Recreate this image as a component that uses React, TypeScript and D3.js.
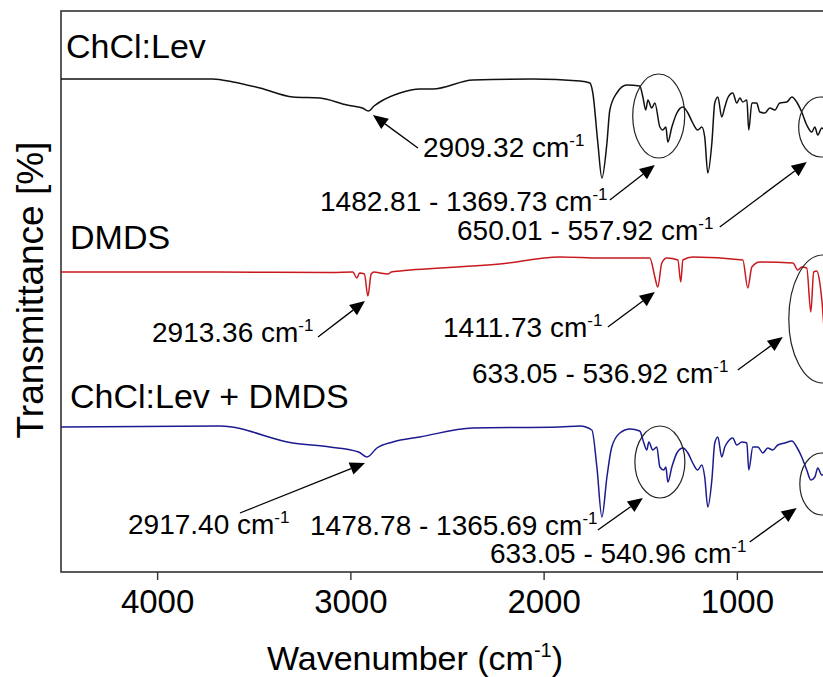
import React from "react";
import * as d3 from "d3";

// ---------- data (wavenumber cm-1, transmittance in arbitrary stacked units) ----------
const chclLev: [number, number][] = [
  [4500, 98.6], [3714, 98.6], [3610, 98.0], [3471, 96.8], [3300, 95.0], [3160, 94.8],
  [3020, 93.4], [2940, 92.8], [2909, 92.2], [2880, 93.2], [2850, 94.0], [2746, 95.8],
  [2643, 96.6], [2576, 96.6], [2369, 98.4], [2058, 98.6], [1815, 98.2], [1763, 97.8],
  [1748, 95.8], [1722, 85.8], [1701, 78.8], [1675, 85.8], [1660, 92.4], [1624, 95.8],
  [1572, 97.4], [1505, 97.2], [1489, 95.0], [1474, 92.4], [1463, 94.4], [1443, 92.8],
  [1427, 93.8], [1401, 89.0], [1386, 88.4], [1370, 89.0], [1360, 86.0], [1339, 89.0],
  [1313, 91.8], [1282, 93.0], [1256, 91.8], [1231, 89.8], [1205, 88.4], [1184, 89.0],
  [1169, 87.0], [1153, 79.8], [1132, 85.8], [1117, 93.8], [1101, 95.0], [1081, 91.0],
  [1065, 93.0], [1050, 94.8], [1024, 95.8], [1003, 93.8], [987, 94.8], [972, 94.0],
  [951, 94.4], [941, 88.4], [925, 93.8], [900, 93.8], [884, 92.0], [858, 91.8],
  [832, 92.8], [806, 92.4], [781, 93.8], [744, 94.0], [718, 95.0], [693, 94.0],
  [667, 92.0], [641, 89.4], [615, 88.0], [599, 89.0], [584, 87.4], [563, 88.8],
  [540, 88.0], [500, 89.0],
];

const dmds: [number, number][] = [
  [4500, 60.0], [3700, 60.0], [3100, 59.9], [2990, 60.0], [2969, 58.8], [2955, 59.8],
  [2930, 59.6], [2912, 55.2], [2895, 59.6], [2880, 60.0], [2850, 59.8], [2808, 59.6],
  [2790, 60.0], [2746, 60.2], [2229, 61.6], [1919, 63.0], [1700, 62.8], [1453, 62.8],
  [1427, 59.0], [1412, 57.0], [1391, 61.8], [1365, 62.8], [1308, 62.4], [1293, 58.0],
  [1282, 62.4], [1231, 63.0], [972, 62.4], [946, 56.8], [925, 61.0], [884, 62.0],
  [713, 61.8], [687, 60.4], [667, 61.0], [641, 60.8], [620, 52.0], [605, 60.0],
  [589, 60.2], [574, 58.0], [563, 54.4], [545, 47.0], [500, 58.0],
];

const chclLevDmds: [number, number][] = [
  [4500, 29.0], [3677, 29.2], [3300, 25.8], [3108, 25.0], [2960, 24.0], [2917, 23.0],
  [2865, 24.8], [2783, 26.0], [2643, 27.0], [2369, 28.8], [1919, 29.0], [1815, 29.2],
  [1753, 28.4], [1727, 21.0], [1701, 11.0], [1675, 19.0], [1650, 25.0], [1608, 27.8],
  [1556, 28.6], [1505, 28.2], [1484, 25.8], [1469, 24.4], [1458, 26.0], [1438, 24.4],
  [1417, 25.0], [1401, 21.0], [1381, 20.4], [1370, 21.0], [1360, 18.0], [1339, 21.0],
  [1313, 23.8], [1282, 24.8], [1256, 23.8], [1231, 21.8], [1205, 20.4], [1184, 21.4],
  [1169, 19.0], [1153, 13.0], [1132, 18.4], [1117, 25.8], [1101, 27.0], [1081, 23.0],
  [1065, 25.0], [1050, 26.0], [1024, 26.8], [1003, 25.4], [977, 26.0], [951, 25.8],
  [941, 20.4], [920, 25.0], [894, 25.0], [868, 23.8], [843, 24.8], [817, 24.4],
  [791, 25.4], [755, 25.8], [718, 26.2], [693, 25.0], [667, 23.0], [641, 20.4],
  [620, 18.4], [599, 19.0], [584, 20.8], [563, 19.4], [540, 20.0], [500, 21.0],
];

const seriesNames = ["ChCl:Lev", "DMDS", "ChCl:Lev + DMDS"];
const seriesColors = ["#111111", "#c8191e", "#1b1b8f"];
const xTicks = [4000, 3000, 2000, 1000];

// peak annotations: label text, arrow tip (wn, T)
const peakLabels = ["2909.32", "1482.81 - 1369.73", "650.01 - 557.92", "2913.36", "1411.73",
  "633.05 - 536.92", "2917.40", "1478.78 - 1365.69", "633.05 - 540.96"];
const peakTips: [number, number][] = [
  [2886, 91.4], [1427, 81.4], [641, 82.0], [2927, 54.2], [1427, 56.0],
  [765, 47.0], [2927, 21.8], [1489, 14.8], [693, 12.8],
];
// ellipses around regions: center (wn, T)
const regionCenters: [number, number][] = [
  [1407, 91.2], [569, 89.0], [558, 50.6], [1401, 22.0], [563, 17.6],
];
const regionRadii: [number, number][] = [[26, 42], [22, 30], [34, 64], [25, 36], [22, 31]];

// ---------- layout ----------
const W = 823, H = 677;
const M = { left: 61, top: 11, right: 834, bottom: 572 };
const FONT = "'Liberation Sans', Arial, Helvetica, sans-serif";

const tailOffsets: [number, number][] = [
  [45, 33], [-45, 35], [-87, 65], [-47, 36], [-47, 35], [-45, 33], [-125, 50], [-45, 32], [-47, 34],
];
const textPos: [number, number][] = [
  [423, 157], [320, 211], [457, 240], [152, 342], [443, 337], [472, 383], [128, 534], [310, 535], [490, 563],
];
const namePos: [number, number][] = [[66, 58], [70, 249], [70, 408]];

function Arrow({ x1, y1, x2, y2 }: { x1: number; y1: number; x2: number; y2: number }) {
  const dx = x2 - x1, dy = y2 - y1;
  const len = Math.hypot(dx, dy);
  const ux = dx / len, uy = dy / len;
  const hl = 15, hw = 6.5;
  const bx = x2 - ux * hl, by = y2 - uy * hl;
  const px = -uy, py = ux;
  const pts = `${x2},${y2} ${bx + px * hw},${by + py * hw} ${bx - px * hw},${by - py * hw}`;
  return (
    <g>
      <line x1={x1} y1={y1} x2={bx} y2={by} stroke="#000" strokeWidth={1.3} />
      <polygon points={pts} fill="#000" />
    </g>
  );
}

export default function App() {
  const x = d3.scaleLinear().domain([4500, 500]).range([M.left, M.right]);
  const y = d3.scaleLinear().domain([0, 112.2]).range([M.bottom, M.top]);
  const line = d3
    .line<[number, number]>()
    .x((d) => x(d[0]))
    .y((d) => y(d[1]))
    .curve(d3.curveMonotoneX);
  const all = [chclLev, dmds, chclLevDmds];

  return (
    <svg
      width={W}
      height={H}
      style={{ position: "absolute", left: 0, top: 0, background: "#fff" }}
      fontFamily={FONT}
    >
      <rect x={0} y={0} width={W} height={H} fill="#fff" />
      {/* frame */}
      <rect
        x={M.left}
        y={M.top}
        width={M.right - M.left}
        height={M.bottom - M.top}
        fill="none"
        stroke="#333"
        strokeWidth={1.6}
      />
      {/* spectra */}
      {all.map((s, i) => (
        <path key={i} d={line(s) || ""} fill="none" stroke={seriesColors[i]} strokeWidth={1.5} />
      ))}
      {/* series names */}
      {seriesNames.map((n, i) => (
        <text key={n} x={namePos[i][0]} y={namePos[i][1]} fontSize={34} fill="#000">
          {n}
        </text>
      ))}
      {/* region ellipses */}
      {regionCenters.map((c, i) => (
        <ellipse
          key={i}
          cx={x(c[0])}
          cy={y(c[1])}
          rx={regionRadii[i][0]}
          ry={regionRadii[i][1]}
          fill="none"
          stroke="#222"
          strokeWidth={1.2}
        />
      ))}
      {/* peak labels + arrows */}
      {peakLabels.map((t, i) => {
        const tx = x(peakTips[i][0]);
        const ty = y(peakTips[i][1]);
        return (
          <g key={i}>
            <Arrow x1={tx + tailOffsets[i][0]} y1={ty + tailOffsets[i][1]} x2={tx} y2={ty} />
            <text x={textPos[i][0]} y={textPos[i][1]} fontSize={28} fill="#000">
              {t} cm
              <tspan dy={-11} fontSize={17}>
                -1
              </tspan>
            </text>
          </g>
        );
      })}
      {/* x axis ticks */}
      {xTicks.map((t) => (
        <g key={t}>
          <line x1={x(t)} x2={x(t)} y1={M.bottom} y2={M.bottom + 8} stroke="#333" strokeWidth={1.4} />
          <text x={x(t)} y={613} fontSize={33} textAnchor="middle" fill="#000">
            {t}
          </text>
        </g>
      ))}
      {/* axis titles */}
      <text x={415} y={670} fontSize={34} textAnchor="middle" fill="#000">
        Wavenumber (cm
        <tspan dy={-13} fontSize={20}>
          -1
        </tspan>
        <tspan dy={13}>)</tspan>
      </text>
      <text
        transform="translate(43,290) rotate(-90)"
        fontSize={37}
        textAnchor="middle"
        fill="#000"
      >
        Transmittance [%]
      </text>
    </svg>
  );
}
